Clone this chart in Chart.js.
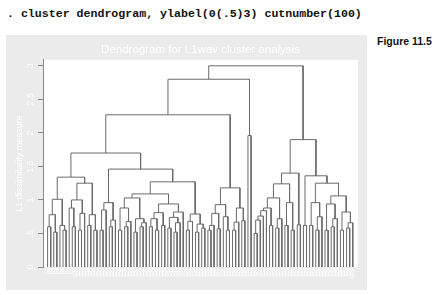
<!DOCTYPE html>
<html>
<head>
<meta charset="utf-8">
<script src="https://cdn.jsdelivr.net/npm/chart.js@4.4.1/dist/chart.umd.min.js"></script>
<style>
  html, body { margin: 0; padding: 0; background: #ffffff; }
  body { width: 442px; height: 295px; position: relative; overflow: hidden; }
  #cmd { position: absolute; left: 7px; top: 7px; font: bold 11.6px "Liberation Mono", monospace; color: #111; white-space: pre; }
  #fig { position: absolute; left: 377px; top: 35px; font: bold 10.5px "Liberation Sans", Arial, sans-serif; color: #111; }
  #box { position: absolute; left: 6px; top: 35px; width: 361px; height: 255px; background: #ebebeb; }
</style>
</head>
<body>
<div id="cmd">. cluster dendrogram, ylabel(0(.5)3) cutnumber(100)</div>
<div id="fig">Figure 11.5</div>
<div id="box"><canvas id="dendro" width="361" height="255"></canvas></div>
<script>
// Leaves are numbered 1..100 from left to right.
// Each merge joins the leaf range mergeLo..mergeHi (two adjacent sub-ranges) at mergeHeight.
const mergeLo = [1,3,1,6,5,1,9,8,11,11, 8,14,16,14,8,1,18,18,21,21, 18,24,26,26,24,29,31,31,29,24,
  34,36,34,38,34,40,42,42,40,40, 34,24,46,46,49,51,49,46,24,18, 1,53,53,56,53,59,58,53,61,61,
  64,61,53,1,66,1,68,68,68,68, 73,68,75,75,68,78,80,78,68,82, 68,84,86,88,88,86,91,93,93,91,
  96,98,98,96,91,86,84,68,1];
const mergeHi = [2,4,4,7,7,7,10,10,12,13, 13,15,17,17,17,17,19,20,22,23, 23,25,27,28,28,30,32,33,33,33,
  35,37,37,39,39,41,43,44,44,45, 45,45,47,48,50,52,52,52,52,52, 52,54,55,57,57,60,60,60,62,63,
  65,65,65,65,67,67,69,70,71,72, 74,74,76,77,77,79,81,81,81,83, 83,85,87,89,90,90,92,94,95,95,
  97,99,100,100,100,100,100,100,100];
const mergeHeight = [0.60,0.52,0.78,0.55,0.62,1.01,0.60,0.88,0.55,0.80, 1.00,0.62,0.55,0.78,1.25,1.34,0.55,0.85,0.60,0.70,
  0.96,0.55,0.60,0.68,0.88,0.52,0.60,0.66,0.72,1.03, 0.60,0.55,0.72,0.62,0.81,0.58,0.52,0.66,0.74,0.82,
  0.94,1.09,0.55,0.68,0.52,0.58,0.64,0.79,1.27,1.46, 1.70,0.55,0.62,0.57,0.80,0.55,0.75,0.93,0.55,0.67,
  0.69,0.88,1.18,2.27,1.96,2.80,0.50,0.70,0.76,0.84, 0.62,0.88,0.58,0.72,1.03,0.62,0.55,0.96,1.24,0.63,
  1.40,0.62,0.62,0.55,0.75,0.96,0.55,0.60,0.72,0.94, 0.55,0.58,0.66,0.82,1.06,1.25,1.36,1.90,3.00];

// branch labels under the leaves
const leafLabels = ['G1','G2','G3','G4','G5','G6','G7','G8','G9','G10','G11','G12','G13','G14','G15','G16','G17','G18','G19','G20',
  'G21','G22','G23','G24','G25','G26','G27','G28','G29','G30','G31','G32','G33','G34','G35','G36','G37','G38','G39','G40',
  'G41','G42','G43','G44','G45','G46','G47','G48','G49','G50','G51','G52','G53','G54','G55','G56','G57','G58','G59','G60',
  'G61','G62','G63','G64','G65','G66','G67','G68','G69','G70','G71','G72','G73','G74','G75','G76','G77','G78','G79','G80',
  'G81','G82','G83','G84','G85','G86','G87','G88','G89','G90','G91','G92','G93','G94','G95','G96','G97','G98','G99','G100'];

// y axis labels, ylabel(0(.5)3)
const yTicks = [0, 0.5, 1, 1.5, 2, 2.5, 3];
const yTickLabels = ['0', '.5', '1', '1.5', '2', '2.5', '3'];

// work out where every node sits, children before parents
const nodeX = {};
const nodeY = {};
leafLabels.forEach((lab, i) => { nodeX[(i + 1) + '-' + (i + 1)] = i + 1; nodeY[(i + 1) + '-' + (i + 1)] = 0; });

const order = mergeHeight.map((h, k) => k).sort((a, b) => mergeHeight[a] - mergeHeight[b]);
const segments = [];
order.forEach(k => {
  const lo = mergeLo[k], hi = mergeHi[k], h = mergeHeight[k];
  let split = lo + 1;
  for (let s = lo + 1; s <= hi; s++) {
    if ((lo + '-' + (s - 1)) in nodeX && (s + '-' + hi) in nodeX) { split = s; break; }
  }
  const a = lo + '-' + (split - 1);
  const b = split + '-' + hi;
  // the upside-down U joining the two children
  segments.push({ x: nodeX[a], y: nodeY[a] }, { x: nodeX[a], y: h }, { x: nodeX[b], y: h }, { x: nodeX[b], y: nodeY[b] });
  segments.push({ x: nodeX[b], y: null });
  nodeX[lo + '-' + hi] = (nodeX[a] + nodeX[b]) / 2;
  nodeY[lo + '-' + hi] = h;
});

// white plot region inside the grey graph region
const whitePlot = {
  id: 'whitePlot',
  beforeDraw(chart) {
    const { ctx, chartArea } = chart;
    ctx.save();
    ctx.fillStyle = '#ffffff';
    ctx.fillRect(chartArea.left, chartArea.top, chartArea.right - chartArea.left, chartArea.bottom - chartArea.top);
    ctx.restore();
  }
};

new Chart(document.getElementById('dendro'), {
  type: 'scatter',
  data: {
    datasets: [{
      data: segments,
      showLine: true,
      borderColor: '#6a6a6a',
      borderWidth: 1,
      pointRadius: 0,
      fill: false
    }]
  },
  options: {
    responsive: false,
    animation: false,
    layout: { padding: { left: 0, right: 9, top: 0, bottom: 0 } },
    plugins: {
      legend: { display: false },
      tooltip: { enabled: false },
      title: {
        display: true,
        fullSize: false,
        text: 'Dendrogram for L1wav cluster analysis',
        color: '#ffffff',
        font: { family: 'Liberation Sans', size: 11.5, weight: 'normal' },
        padding: { top: 8, bottom: 3 }
      }
    },
    scales: {
      x: {
        type: 'linear',
        min: -0.5,
        max: 101.7,
        grid: { display: false, drawTicks: false },
        border: { display: false },
        afterBuildTicks: scale => { scale.ticks = leafLabels.map((lab, i) => ({ value: i + 1 })); },
        ticks: {
          autoSkip: false,
          minRotation: 90,
          maxRotation: 90,
          padding: 1,
          color: '#ffffff',
          font: { family: 'Liberation Sans', size: 4.5 },
          callback: v => leafLabels[v - 1]
        },
        afterFit: scale => { scale.height = 23; }
      },
      y: {
        min: 0,
        max: 3.09,
        afterBuildTicks: scale => { scale.ticks = yTicks.map(v => ({ value: v })); },
        ticks: {
          minRotation: 90,
          maxRotation: 90,
          crossAlign: 'center',
          padding: 1,
          color: '#ffffff',
          font: { family: 'Liberation Sans', size: 9 },
          callback: v => yTickLabels[yTicks.indexOf(v)]
        },
        grid: { drawOnChartArea: false, drawTicks: true, tickLength: 5, color: '#8a8a8a' },
        border: { display: true, color: '#8a8a8a' },
        title: {
          display: true,
          text: 'L1 dissimilarity measure',
          color: '#ffffff',
          font: { family: 'Liberation Sans', size: 9 },
          padding: { top: 8, bottom: 0 }
        },
        afterFit: scale => { scale.width = 37; }
      }
    }
  },
  plugins: [whitePlot]
});
</script>
</body>
</html>
